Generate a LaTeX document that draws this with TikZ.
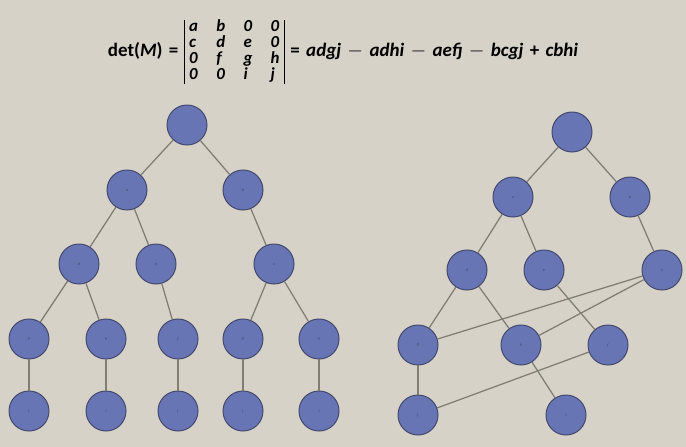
\documentclass[tikz,border=0pt]{standalone}
\usepackage{fontspec}
\setmainfont{Carlito}
\definecolor{slidebg}{RGB}{214,210,200}
\definecolor{nodeblue}{RGB}{104,117,180}
\definecolor{nodeline}{RGB}{66,72,108}
\definecolor{linkgrey}{RGB}{128,126,116}
\tikzset{
  vtx/.style={circle, fill=nodeblue, draw=nodeline, line width=0.7pt,
    minimum size=1cm, inner sep=0pt, text=nodeline,
    font=\fontsize{3}{3}\selectfont\itshape},
  link/.style={draw=linkgrey, line width=0.9pt}
}
\newcommand{\opsp}[1]{\hspace{4.5pt}#1\hspace{4.5pt}}
\begin{document}
\begin{tikzpicture}[x=0.025cm, y=-0.025cm]
    % Slide background
    \fill[slidebg] (0,0) rectangle (686,447);
    \useasboundingbox (0,0) rectangle (686,447);

    % Determinant expansion
    \node[font=\bfseries\fontsize{13.5}{15}\selectfont] (formula) at (343,52) {%
        det(\textit{M})\opsp{=}%
        {\fontsize{12}{10.2}\selectfont\itshape
        \begin{tabular}{@{}|@{\hspace{3pt}}l@{\hspace{13pt}}l@{\hspace{13pt}}l@{\hspace{13pt}}l@{\hspace{3pt}}|@{}}
            a & b & 0 & 0\\
            c & d & e & 0\\
            0 & f & g & h\\
            0 & 0 & i & j
        \end{tabular}}%
        \opsp{=}\textit{adgj}\opsp{$-$}\textit{adhi}\opsp{$-$}\textit{aefj}\opsp{$-$}\textit{bcgj}\opsp{+}\textit{cbhi}%
    };

    % Left: expansion tree
    \foreach \name/\x/\y/\lbl in {
        L0/187/125/{}, La/127/190/a, Lb/243/190/b,
        Ld/79/264/d, Le/156/264/e, Lc/274/264/c,
        Lg1/29/339/g, Lh1/106/339/h, Lf/178/339/f, Lg2/243/339/g, Lh2/319/339/h,
        Lj1/29/411/j, Li1/106/411/i, Lj2/178/411/j, Lj3/243/411/j, Li2/319/411/i} {
        \node[vtx] (\name) at (\x,\y) {\lbl};
    }
    \foreach \u/\v in {L0/La, L0/Lb, La/Ld, La/Le, Lb/Lc,
        Ld/Lg1, Ld/Lh1, Le/Lf, Lc/Lg2, Lc/Lh2,
        Lg1/Lj1, Lh1/Li1, Lf/Lj2, Lg2/Lj3, Lh2/Li2} {
        \draw[link] (\u) -- (\v);
    }

    % Right: shared nodes (DAG)
    \foreach \name/\x/\y/\lbl in {
        R0/572/132/{}, Ra/513/197/a, Rb/630/197/b,
        Rd/467/270/d, Re/544/270/e, Rc/662/270/c,
        Rg/418/345/g, Rh/521/345/h, Rf/608/345/f,
        Rj/418/415/j, Ri/566/415/i} {
        \node[vtx] (\name) at (\x,\y) {\lbl};
    }
    \foreach \u/\v in {R0/Ra, R0/Rb, Ra/Rd, Ra/Re, Rb/Rc,
        Rd/Rg, Rd/Rh, Re/Rf, Rc/Rg, Rc/Rh,
        Rg/Rj, Rh/Ri, Rf/Rj} {
        \draw[link] (\u) -- (\v);
    }
\end{tikzpicture}
\end{document}
